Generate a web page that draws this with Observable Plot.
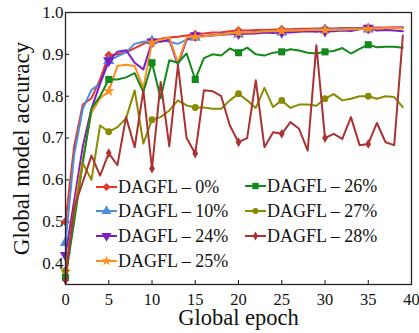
<!DOCTYPE html>
<html><head><meta charset="utf-8">
<script src="https://cdn.jsdelivr.net/npm/d3@7"></script>
<script src="https://cdn.jsdelivr.net/npm/@observablehq/plot@0.6"></script>
<style>body{margin:0;background:#fff} #chart{width:419px;height:333px} svg text{font-family:"Liberation Serif","Times New Roman",Times,"DejaVu Serif",serif !important;}</style>
</head><body><div id="chart"></div>
<script>
const epochs = [0,1,2,3,4,5,6,7,8,9,10,11,12,13,14,15,16,17,18,19,20,21,22,23,24,25,26,27,28,29,30,31,32,33,34,35,36,37,38,39];
const xTicks = [0,5,10,15,20,25,30,35,40];
const yTicks = [0.4,0.5,0.6,0.7,0.8,0.9,1.0];
const names = ["DAGFL – 0%","DAGFL – 10%","DAGFL – 24%","DAGFL – 25%","DAGFL – 26%","DAGFL – 27%","DAGFL – 28%"];
const acc0  = [0.50,0.68,0.78,0.795,0.84,0.898,0.90,0.905,0.915,0.925,0.933,0.937,0.94,0.942,0.945,0.948,0.95,0.952,0.953,0.955,0.957,0.957,0.958,0.958,0.959,0.96,0.96,0.961,0.961,0.962,0.962,0.962,0.963,0.963,0.963,0.964,0.964,0.964,0.965,0.965];
const acc10 = [0.45,0.66,0.77,0.815,0.83,0.885,0.895,0.905,0.925,0.93,0.932,0.935,0.93,0.925,0.935,0.94,0.944,0.946,0.948,0.95,0.948,0.952,0.954,0.955,0.956,0.953,0.957,0.958,0.958,0.96,0.958,0.96,0.961,0.961,0.962,0.96,0.962,0.963,0.963,0.964];
const acc24 = [0.42,0.55,0.68,0.77,0.83,0.885,0.906,0.91,0.88,0.864,0.93,0.93,0.935,0.875,0.935,0.945,0.943,0.945,0.947,0.948,0.95,0.949,0.95,0.952,0.951,0.953,0.952,0.954,0.955,0.954,0.956,0.955,0.957,0.956,0.96,0.963,0.957,0.958,0.957,0.955];
const acc25 = [0.38,0.53,0.65,0.76,0.795,0.812,0.872,0.875,0.872,0.82,0.928,0.935,0.94,0.88,0.94,0.942,0.943,0.945,0.947,0.95,0.952,0.952,0.953,0.955,0.955,0.956,0.957,0.957,0.958,0.958,0.958,0.958,0.959,0.96,0.96,0.961,0.962,0.963,0.963,0.962];
const acc26 = [0.367,0.50,0.64,0.77,0.80,0.84,0.84,0.845,0.855,0.81,0.88,0.795,0.886,0.88,0.902,0.84,0.891,0.90,0.897,0.914,0.904,0.916,0.90,0.897,0.904,0.906,0.912,0.909,0.904,0.902,0.906,0.908,0.915,0.902,0.913,0.923,0.917,0.918,0.918,0.916];
const acc27 = [0.383,0.52,0.64,0.60,0.73,0.715,0.726,0.747,0.814,0.687,0.744,0.75,0.766,0.79,0.778,0.773,0.773,0.77,0.77,0.79,0.806,0.79,0.772,0.82,0.774,0.79,0.772,0.78,0.78,0.777,0.794,0.805,0.79,0.794,0.80,0.80,0.794,0.80,0.798,0.774];
const acc28 = [0.36,0.535,0.595,0.658,0.61,0.664,0.635,0.75,0.678,0.814,0.627,0.834,0.68,0.874,0.70,0.663,0.814,0.812,0.80,0.73,0.69,0.70,0.838,0.678,0.714,0.71,0.738,0.722,0.67,0.922,0.70,0.71,0.698,0.75,0.683,0.686,0.736,0.69,0.683,0.945];
const colors = ["#ec3427","#4b8fdc","#7a1fc4","#ff8f1c","#12891a","#8a8a00","#aa3232"];

const triangleDown = {draw(ctx, size){ const k = Math.sqrt(size/(Math.sqrt(3)*3)); const s = Math.sqrt(3)*k;
  ctx.moveTo(0, 2*k); ctx.lineTo(-s, -k); ctx.lineTo(s, -k); ctx.closePath(); }};
const symbols = [d3.symbolDiamond2, d3.symbolTriangle, triangleDown, d3.symbolStar, d3.symbolSquare, d3.symbolCircle, d3.symbolDiamond];
const radii = [4, 4.2, 4.2, 3.6, 4, 3.4, 3];

const values = [acc0, acc10, acc24, acc25, acc26, acc27, acc28];
const series = names.map((name, i) => ({name, color: colors[i], symbol: symbols[i], r: radii[i],
  rows: epochs.map((e, j) => ({epoch: e, acc: values[i][j]}))}));

const marks = [];
for (const s of series) {
  marks.push(Plot.line(s.rows, {x: "epoch", y: "acc", stroke: s.color, strokeWidth: 2}));
  marks.push(Plot.dot(s.rows.filter(d => d.epoch % 5 === 0), {x: "epoch", y: "acc", fill: s.color, symbol: s.symbol, r: s.r, stroke: "none"}));
}

const serif = "Liberation Serif, Times New Roman, Times, DejaVu Serif, serif";
const svg = Plot.plot({
  width: 419, height: 333,
  marginLeft: 65, marginRight: 8, marginTop: 12, marginBottom: 49,
  style: {fontFamily: serif, fontSize: "17px", background: "white", color: "#111"},
  x: {domain: [0, 40]},
  y: {domain: [0.35, 1.0]},
  marks: [
    Plot.axisX({ticks: xTicks, tickSize: -4, tickPadding: 13, tickFormat: d => String(d), label: null, fontSize: 16.5}),
    Plot.axisY({ticks: yTicks, tickSize: -4, tickPadding: 6, tickFormat: d => d.toFixed(1), label: null, fontSize: 17}),
    ...marks,
    Plot.frame({stroke: "#222", strokeWidth: 1.3}),
    Plot.text(["Global epoch"], {frameAnchor: "bottom", textAnchor: "middle", lineAnchor: "middle", dy: 33, fontSize: 22.5, fill: "#111"}),
    Plot.text(["Global model accuracy"], {frameAnchor: "left", textAnchor: "middle", lineAnchor: "middle", dx: -44, rotate: -90, fontSize: 23, fill: "#111"})
  ]
});

// legend inside the plot area
const legend = [
  {i: 0, x: 96, y: 187}, {i: 1, x: 96, y: 211}, {i: 2, x: 96, y: 236}, {i: 3, x: 96, y: 261},
  {i: 4, x: 245, y: 186}, {i: 5, x: 245, y: 211}, {i: 6, x: 245, y: 236}
];
const g = d3.select(svg).append("g").attr("font-family", serif).attr("font-size", 18).attr("text-anchor", "start");
for (const L of legend) {
  const s = series[L.i];
  g.append("line").attr("x1", L.x).attr("x2", L.x + 21).attr("y1", L.y).attr("y2", L.y).attr("stroke", s.color).attr("stroke-width", 2);
  g.append("path").attr("transform", `translate(${L.x + 10.5},${L.y})`).attr("d", d3.symbol(s.symbol, Math.PI * s.r * s.r * 0.8)()).attr("fill", s.color);
  g.append("text").attr("x", L.x + 22).attr("y", L.y).attr("dy", "0.35em").attr("text-anchor", "start").attr("fill", "#111").text(s.name);
}
document.getElementById("chart").append(svg);
</script></body></html>
